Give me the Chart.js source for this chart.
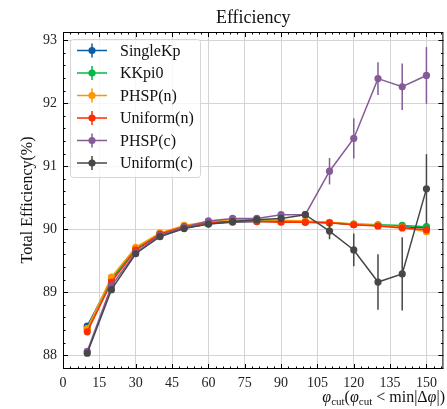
<!DOCTYPE html>
<html>
<head>
<meta charset="utf-8">
<script src="https://cdn.jsdelivr.net/npm/chart.js@4/dist/chart.umd.min.js"></script>
<style>
  html, body { margin: 0; padding: 0; background: #ffffff; }
  #wrap { width: 447px; height: 409px; }
</style>
</head>
<body>
<div id="wrap"><canvas id="c" width="447" height="409"></canvas></div>
<script>
// phi cut values (degrees)
const phiCut = [10, 20, 30, 40, 50, 60, 70, 80, 90, 100, 110, 120, 130, 140, 150];

// total efficiency (%) per sample
const singleKp  = [88.46, 89.20, 89.67, 89.91, 90.02, 90.08, 90.11, 90.12, 90.12, 90.11, 90.10, 90.07, 90.06, 90.04, 90.02];
const kkpi0     = [88.42, 89.21, 89.69, 89.93, 90.04, 90.10, 90.13, 90.14, 90.13, 90.12, 90.10, 90.08, 90.07, 90.06, 90.04];
const phspN     = [88.42, 89.24, 89.71, 89.94, 90.06, 90.12, 90.15, 90.15, 90.14, 90.13, 90.11, 90.08, 90.06, 90.03, 89.96];
const uniformN  = [88.37, 89.16, 89.67, 89.92, 90.04, 90.10, 90.12, 90.12, 90.11, 90.11, 90.10, 90.07, 90.05, 90.02, 89.99];
const phspC     = [88.06, 89.10, 89.63, 89.90, 90.03, 90.13, 90.17, 90.17, 90.23, 90.23, 90.92, 91.44, 92.39, 92.26, 92.44];
const uniformC  = [88.03, 89.04, 89.61, 89.88, 90.01, 90.08, 90.12, 90.15, 90.17, 90.23, 89.97, 89.67, 89.16, 89.29, 90.64];

// statistical uncertainties (%)
const errSingleKp = [0.02, 0.02, 0.02, 0.02, 0.02, 0.02, 0.02, 0.02, 0.02, 0.02, 0.02, 0.02, 0.02, 0.02, 0.02];
const errKkpi0    = [0.02, 0.02, 0.02, 0.02, 0.02, 0.02, 0.02, 0.02, 0.02, 0.02, 0.02, 0.02, 0.02, 0.02, 0.02];
const errPhspN    = [0.02, 0.02, 0.02, 0.02, 0.02, 0.02, 0.02, 0.02, 0.02, 0.02, 0.02, 0.02, 0.02, 0.02, 0.02];
const errUniformN = [0.02, 0.02, 0.02, 0.02, 0.02, 0.02, 0.02, 0.02, 0.02, 0.02, 0.02, 0.02, 0.02, 0.02, 0.02];
const errPhspC    = [0.03, 0.03, 0.03, 0.03, 0.03, 0.03, 0.03, 0.03, 0.03, 0.04, 0.21, 0.32, 0.26, 0.37, 0.45];
const errUniformC = [0.03, 0.03, 0.03, 0.03, 0.03, 0.03, 0.03, 0.03, 0.03, 0.04, 0.13, 0.26, 0.44, 0.58, 0.55];

const seriesNames  = ['SingleKp', 'KKpi0', 'PHSP(n)', 'Uniform(n)', 'PHSP(c)', 'Uniform(c)'];
const seriesValues = [singleKp, kkpi0, phspN, uniformN, phspC, uniformC];
const seriesErrors = [errSingleKp, errKkpi0, errPhspN, errUniformN, errPhspC, errUniformC];
const seriesColors = ['#0C5DA5', '#00B945', '#FF9500', '#FF2C00', '#845B97', '#474747'];

const xTicks = [0, 15, 30, 45, 60, 75, 90, 105, 120, 135, 150];
const yTicks = [88, 89, 90, 91, 92, 93];

const SERIF = '"Liberation Serif", "DejaVu Serif", serif';

const datasets = seriesNames.map((name, i) => ({
  label: name,
  data: phiCut.map((x, k) => ({ x: x, y: seriesValues[i][k] })),
  errors: seriesErrors[i],
  borderColor: seriesColors[i],
  backgroundColor: seriesColors[i],
  borderWidth: 1.5,
  pointRadius: 3.6,
  pointBorderWidth: 0,
  pointHoverRadius: 3.6,
  tension: 0,
  fill: false,
  order: seriesNames.length - i
}));

// vertical error bars, drawn just before each dataset's line and markers
const errorBars = {
  id: 'errorBars',
  beforeDatasetDraw(chart, args) {
    const ds = chart.data.datasets[args.index];
    const yScale = chart.scales.y;
    const ctx = chart.ctx;
    ctx.save();
    ctx.strokeStyle = ds.borderColor;
    ctx.lineWidth = 1.5;
    args.meta.data.forEach((pt, k) => {
      const v = ds.data[k].y, e = ds.errors[k];
      ctx.beginPath();
      ctx.moveTo(pt.x, yScale.getPixelForValue(v - e));
      ctx.lineTo(pt.x, yScale.getPixelForValue(v + e));
      ctx.stroke();
    });
    ctx.restore();
  }
};

// axes frame with inward ticks, legend box, title and axis labels
const decorations = {
  id: 'decorations',
  afterDraw(chart) {
    const ctx = chart.ctx;
    const a = chart.chartArea;
    const xs = chart.scales.x, ys = chart.scales.y;
    ctx.save();

    // frame
    ctx.strokeStyle = '#000';
    ctx.lineWidth = 1;
    ctx.strokeRect(a.left + 0.5, a.top + 0.5, a.right - a.left - 1, a.bottom - a.top - 1);

    // ticks pointing inward on all four sides
    ctx.beginPath();
    for (let v = 0; v <= xs.max; v += 3) {
      const px = Math.round(xs.getPixelForValue(v)) + 0.5;
      const len = (v % 15 === 0) ? 5 : 2.5;
      ctx.moveTo(px, a.bottom); ctx.lineTo(px, a.bottom - len);
      ctx.moveTo(px, a.top); ctx.lineTo(px, a.top + len);
    }
    for (let i = 0; i <= 26; i++) {
      const v = 88 + i * 0.2;
      if (v > ys.max) break;
      const py = Math.round(ys.getPixelForValue(v)) + 0.5;
      const len = (i % 5 === 0) ? 5 : 2.5;
      ctx.moveTo(a.left, py); ctx.lineTo(a.left + len, py);
      ctx.moveTo(a.right, py); ctx.lineTo(a.right - len, py);
    }
    const py0 = Math.round(ys.getPixelForValue(87.8)) + 0.5;
    ctx.moveTo(a.left, py0); ctx.lineTo(a.left + 2.5, py0);
    ctx.moveTo(a.right, py0); ctx.lineTo(a.right - 2.5, py0);
    ctx.stroke();

    // title
    ctx.fillStyle = '#111';
    ctx.font = '18px ' + SERIF;
    ctx.textAlign = 'center';
    ctx.textBaseline = 'middle';
    ctx.fillText('Efficiency', (a.left + a.right) / 2, 18);

    // y-axis label
    ctx.save();
    ctx.translate(28, 200);
    ctx.rotate(-Math.PI / 2);
    ctx.font = '16px ' + SERIF;
    ctx.fillText('Total Efficiency(%)', 0, 0);
    ctx.restore();

    // x-axis label: φcut(φcut < min|Δφ|), right aligned
    const parts = [
      { t: 'φ', f: 'italic 16px ' + SERIF, dy: 0 },
      { t: 'cut', f: '11px ' + SERIF, dy: 3 },
      { t: '(', f: '16px ' + SERIF, dy: 0 },
      { t: 'φ', f: 'italic 16px ' + SERIF, dy: 0 },
      { t: 'cut', f: '11px ' + SERIF, dy: 3 },
      { t: ' < min|Δ', f: '16px ' + SERIF, dy: 0 },
      { t: 'φ', f: 'italic 16px ' + SERIF, dy: 0 },
      { t: '|)', f: '16px ' + SERIF, dy: 0 }
    ];
    let total = 0;
    parts.forEach(p => { ctx.font = p.f; p.w = ctx.measureText(p.t).width; total += p.w; });
    let cx = 445 - total;
    ctx.textAlign = 'left';
    ctx.textBaseline = 'alphabetic';
    parts.forEach(p => { ctx.font = p.f; ctx.fillText(p.t, cx, 402 + p.dy); cx += p.w; });

    // legend
    const lx = 70, ly = 39, lw = 130, lh = 138;
    ctx.fillStyle = 'rgba(255,255,255,0.8)';
    ctx.strokeStyle = '#d6d6d6';
    ctx.lineWidth = 1;
    ctx.beginPath();
    ctx.roundRect(lx + 0.5, ly + 0.5, lw, lh, 3);
    ctx.fill();
    ctx.stroke();
    chart.data.datasets.forEach((ds, i) => {
      const ry = 50.5 + i * 22.5;
      ctx.strokeStyle = ds.borderColor;
      ctx.fillStyle = ds.borderColor;
      ctx.lineWidth = 1.5;
      ctx.beginPath();
      ctx.moveTo(77, ry); ctx.lineTo(107, ry);
      ctx.moveTo(92, ry - 7); ctx.lineTo(92, ry + 7);
      ctx.stroke();
      ctx.beginPath();
      ctx.arc(92, ry, 3.6, 0, Math.PI * 2);
      ctx.fill();
      ctx.fillStyle = '#111';
      ctx.font = '16px ' + SERIF;
      ctx.textBaseline = 'middle';
      ctx.fillText(ds.label, 120, ry + 1);
    });
    ctx.restore();
  }
};

new Chart(document.getElementById('c'), {
  type: 'line',
  data: { datasets: datasets },
  plugins: [errorBars, decorations],
  options: {
    responsive: false,
    animation: false,
    devicePixelRatio: 1,
    layout: { padding: { top: 32, right: 2, left: 0, bottom: 0 } },
    plugins: { legend: { display: false }, title: { display: false }, tooltip: { enabled: false } },
    scales: {
      x: {
        type: 'linear',
        min: 0,
        max: 157,
        afterBuildTicks: s => { s.ticks = xTicks.map(v => ({ value: v })); },
        afterFit: s => { s.height = 40; },
        grid: { color: '#d4d4d4', lineWidth: 1, drawTicks: false },
        border: { display: false },
        ticks: { font: { family: SERIF, size: 14 }, color: '#222', padding: 6, maxRotation: 0, autoSkip: false }
      },
      y: {
        type: 'linear',
        min: 87.78,
        max: 93.13,
        afterBuildTicks: s => { s.ticks = yTicks.map(v => ({ value: v })); },
        afterFit: s => { s.width = 63; },
        grid: { color: '#d4d4d4', lineWidth: 1, drawTicks: false },
        border: { display: false },
        ticks: { font: { family: SERIF, size: 14 }, color: '#222', padding: 6, autoSkip: false }
      }
    }
  }
});
</script>
</body>
</html>
